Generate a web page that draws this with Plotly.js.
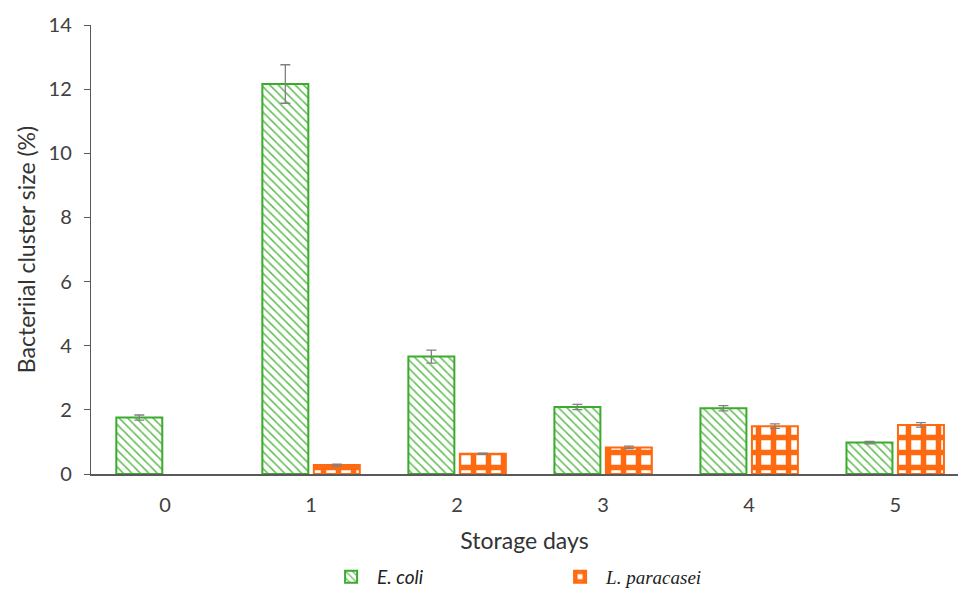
<!DOCTYPE html>
<html>
<head>
<meta charset="utf-8">
<script src="https://cdn.plot.ly/plotly-3.0.1.min.js"></script>
<style>html,body{margin:0;padding:0;background:#fff;}#chart{width:958px;height:590px;}</style>
</head>
<body>
<div id="chart"></div>
<script>
const days = ['0', '1', '2', '3', '4', '5'];
const ecoli = [1.76, 12.16, 3.66, 2.09, 2.05, 0.98];
const ecoliErr = [0.08, 0.6, 0.2, 0.08, 0.08, 0.04];
const lpara = [null, 0.28, 0.63, 0.83, 1.49, 1.53];
const lparaErr = [null, 0.03, 0.02, 0.04, 0.07, 0.07];
const yTicks = [0, 2, 4, 6, 8, 10, 12, 14];

const green = '#3aab2c';
const orange = '#ff6a10';
const errStyle = {type: 'data', visible: true, color: '#808080', thickness: 1.3, width: 5};

const traces = [
  {
    type: 'bar', name: '<i>E. coli</i>', x: days, y: ecoli,
    error_y: Object.assign({array: ecoliErr}, errStyle),
    marker: {color: 'white', line: {color: green, width: 2},
      pattern: {shape: '\\', fgcolor: '#5cbc4e', bgcolor: 'white', size: 6, solidity: 0.25}}
  },
  {
    type: 'bar', name: '<span style="font-family:\'Liberation Serif\', serif"><i>L. paracasei</i></span>', x: days, y: lpara,
    error_y: Object.assign({array: lparaErr}, errStyle),
    marker: {color: 'white', line: {color: orange, width: 2},
      pattern: {shape: '+', fgcolor: orange, bgcolor: 'white', size: 15, solidity: 0.6}}
  }
];

const layout = {
  width: 958, height: 590,
  margin: {l: 91, r: 0, t: 25, b: 116, autoexpand: false},
  paper_bgcolor: 'white', plot_bgcolor: 'white',
  font: {family: 'Lato, "Open Sans", sans-serif', size: 18, color: '#333'},
  barmode: 'group', bargap: 0.295, bargroupgap: 0.107,
  showlegend: true,
  legend: {orientation: 'h', x: 0.27, xanchor: 'left', y: -0.229, yanchor: 'middle',
    font: {size: 19, color: '#222'}, entrywidth: 172, entrywidthmode: 'pixels', itemwidth: 42},
  xaxis: {type: 'category', range: [-0.507, 5.43], showline: true, linecolor: '#595959', linewidth: 1.5,
    ticks: '', tickfont: {size: 20, color: '#404040'}, ticklabelstandoff: 12, showgrid: false, zeroline: false,
    title: {text: 'Storage days', font: {size: 23, color: '#333'}, standoff: 18}},
  yaxis: {range: [0, 14], tickvals: yTicks, ticktext: yTicks.map(String), showline: true, linecolor: '#595959', linewidth: 1.2,
    ticks: 'outside', ticklen: 6, tickcolor: '#595959', tickfont: {size: 20, color: '#404040'}, ticklabelstandoff: 8,
    showgrid: false, zeroline: false,
    title: {text: 'Bacteriial cluster size (%)', font: {size: 23, color: '#333'}, standoff: 6}}
};

Plotly.newPlot('chart', traces, layout, {displayModeBar: false, staticPlot: true});
</script>
</body>
</html>
